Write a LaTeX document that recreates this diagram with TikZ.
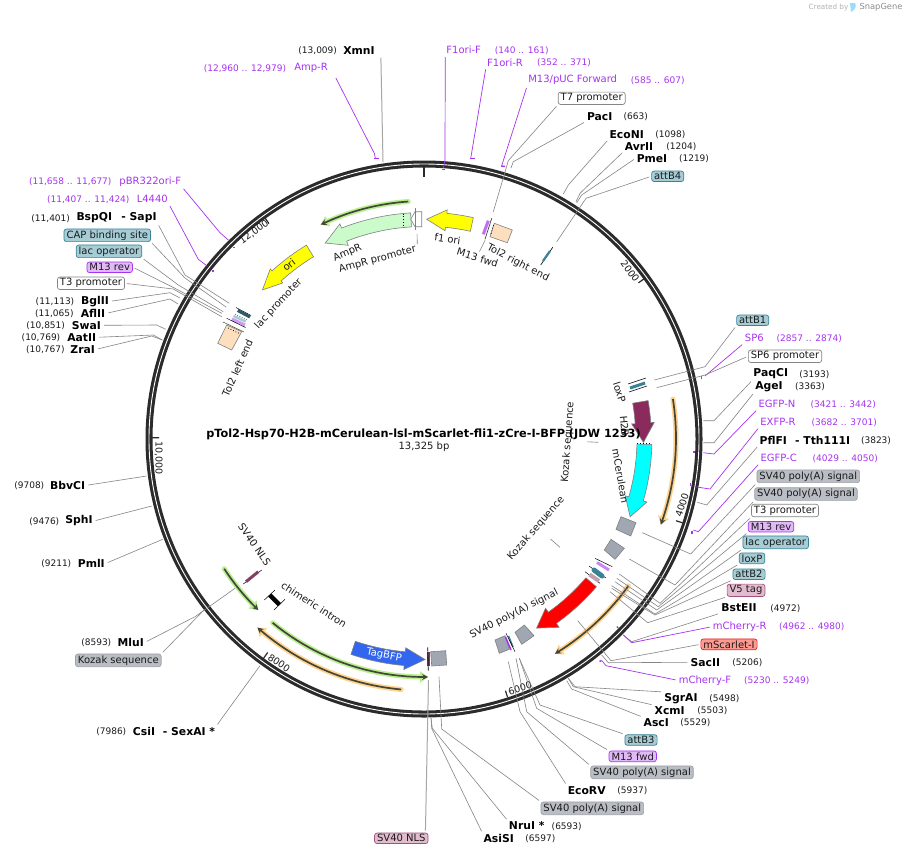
\documentclass[tikz,border=0pt]{standalone}
\usepackage{fontspec}
\usepackage{xcolor}
\usepackage{tikz}
\usetikzlibrary{positioning,arrows.meta,calc}
\setmainfont{DejaVu Sans}
\definecolor{ink}{HTML}{1A1A1A}
\definecolor{ringc}{HTML}{2B2B2B}
\definecolor{linec}{HTML}{858585}
\definecolor{prim}{HTML}{A633F0}
\definecolor{teal}{HTML}{A6CDD6}
\definecolor{tealdk}{HTML}{3A8296}
\definecolor{lilac}{HTML}{E2B9F7}
\definecolor{greybox}{HTML}{B9BDC4}
\definecolor{greyfeat}{HTML}{A0A7B2}
\definecolor{pinkbox}{HTML}{E2BBCE}
\definecolor{pinkdk}{HTML}{A2507F}
\definecolor{peach}{HTML}{FDDFBE}
\definecolor{glowg}{HTML}{B9F08F}
\definecolor{glowo}{HTML}{FFD38C}
\definecolor{linedk}{HTML}{45453A}
\definecolor{ampgreen}{HTML}{CBFBCB}
\definecolor{hyellow}{HTML}{FFFF00}
\definecolor{hcyan}{HTML}{00FFFF}
\definecolor{hred}{HTML}{FF0000}
\definecolor{hplum}{HTML}{8B2A5C}
\definecolor{hblue}{HTML}{3366EE}
\definecolor{scarlet}{HTML}{FF9A90}
\definecolor{scarletdk}{HTML}{E02020}
\tikzset{
  lab/.style={font=\fontsize{10}{12}\selectfont,text=ink,inner sep=1pt},
  ticklab/.style={lab,font=\fontsize{9.5}{11}\selectfont},
  enzyme/.style={lab,font=\fontsize{10.8}{12}\selectfont\bfseries,text=black},
  numb/.style={lab,font=\fontsize{9}{11}\selectfont},
  primer/.style={lab,text=prim},
  primnum/.style={numb,text=prim},
  tag/.style={lab,rounded corners=2.5pt,inner xsep=2.5pt,inner ysep=1.5pt,line width=.7pt},
  tagteal/.style={tag,draw=tealdk,fill=teal},
  taglilac/.style={tag,draw=prim,fill=lilac},
  taggrey/.style={tag,draw=greybox!85!black,fill=greybox},
  tagwhite/.style={tag,draw=linec,fill=white},
  tagpink/.style={tag,draw=pinkdk,fill=pinkbox},
  tagred/.style={tag,draw=scarletdk,fill=scarlet},
  lead/.style={draw=linec,line width=.6pt,shorten <=2pt},
  leadp/.style={draw=prim,line width=.7pt,shorten <=2pt},
  primdot/.style={draw=prim,line width=1.4pt},
  feat/.style={draw=gray,line width=.6pt},
  flab/.style={lab,inner sep=0pt}
}
% arrow shaped feature on the ring: radius, tail, head base, tip, half body, half head
\newcommand{\ringarrow}[7][]{\path[feat,#1] plot[domain=#3:#4,samples=16] ({ringx(#2+#6,\x)},{ringy(#2+#6,\x)}) -- ({ringx(#2+#7,#4)},{ringy(#2+#7,#4)}) -- ({ringx(#2,#5)},{ringy(#2,#5)}) -- ({ringx(#2-#7,#4)},{ringy(#2-#7,#4)}) -- plot[domain=#4:#3,samples=16] ({ringx(#2-#6,\x)},{ringy(#2-#6,\x)}) -- cycle;}
% thin arc with a glow: colour, radius, from, to
\newcommand{\ringline}[4]{\draw[#1,line width=5pt,line cap=round,-{Triangle[length=8pt,width=11pt]}] plot[domain=#3:#4,samples=24] ({ringx(#2,\x)},{ringy(#2,\x)});
  \draw[linedk,line width=1.7pt,-{Stealth[length=6pt,width=6pt]}] plot[domain=#3:#4,samples=24] ({ringx(#2,\x)},{ringy(#2,\x)});}
\begin{document}
\begin{tikzpicture}[x=1pt,y=-1pt,declare function={ringx(\r,\t)=424+\r*sin(\t);ringy(\r,\t)=438.5-\r*cos(\t);}]
  \useasboundingbox (0,0) rectangle (907,855);
  \fill[white] (0,0) rectangle (907,855);
  % credit
  \node[lab,text=black!30,font=\fontsize{7.2}{9}\selectfont] (made) at (828.5,7.5) {Created by};
  \node[lab,text=black!45,font=\fontsize{8.3}{10}\selectfont] (sgene) at (881,7.5) {SnapGene};
  \fill[cyan!40] (850,3) -- (855,3) .. controls (857,6) and (855,10) .. (851,12) -- cycle;
  % backbone
  \draw[ringc,line width=7pt] (424,439) circle (275);
  \draw[white,line width=.9pt] (424,439) circle (275);
  \draw[ringc,line width=2.6pt] (424,166) -- (424,177);
  \foreach \t in {54.03,108.07,162.1,216.14,270.17,324.2}
    \draw[ringc,line width=1.2pt] ({ringx(272,\t)},{ringy(272,\t)}) -- ({ringx(265,\t)},{ringy(265,\t)});
  \node[ticklab,rotate=-54] (t2k) at (630,271) {2000};
  \node[ticklab,rotate=72] (t4k) at (682,505) {4000};
  \node[ticklab,rotate=18] (t6k) at (520,688) {6000};
  \node[ticklab,rotate=-34] (t8k) at (279,663) {8000};
  \node[ticklab,rotate=-90] (t10k) at (158.5,458) {10,000};
  \node[ticklab,rotate=36] (t12k) at (254,232) {12,000};

  % inner features, clockwise from the top
  \ringarrow[fill=hyellow]{219.3}{12.6}{5.8}{0.7}{7}{10.5}
  \node[flab,rotate=-8] (fori) at (447.5,239) {f1 ori};
  \ringarrow[fill=ampgreen]{219}{-3.4}{-21.4}{-26.8}{7}{11.5}
  \draw[black,dotted,line width=.8pt] (403.5,213.5) -- (403.5,225);
  \node[flab,rotate=23] (ampr) at (347.5,253) {AmpR};
  \node[flab,rotate=15] (amprp) at (377.5,259.5) {AmpR promoter};
  \draw[feat,fill=white] (421.7,211.7) -- (421.7,226.7) -- (415,226.7) -- (410.7,219.3) -- (415,211.7) -- cycle;
  \draw[feat] (415.7,208) -- (415.7,230);
  \coordinate (amprpa) at (417,232);
  \coordinate (amprpb) at (417.3,244);
  \draw[lead] (amprpa) -- (amprpb);
  \ringline{glowg}{237.5}{-3.8}{-25.8}
  \ringarrow[fill=hyellow]{219.5}{-31.3}{-42.2}{-47.4}{6.8}{9.4}
  \node[flab,rotate=38] (orilab) at (289,265) {ori};
  \node[flab,rotate=47] (lacp) at (278.5,304) {lac promoter};
  \node[flab,rotate=66] (tolleft) at (237.5,368) {Tol2 left end};
  \draw[feat,fill=peach] (226.7,325) -- (241.7,331.7) -- (231.7,350) -- (217.7,343.3) -- cycle;
  \draw[black,dotted,line width=.8pt] (228,328) -- (239.5,333.5);
  \draw[black,line width=.5pt] (236,307.5) -- (251,315.5);
  \draw[tealdk!70!black,line width=3pt] (237.7,310.5) -- (250,317);
  \draw[black,line width=.4pt,dash pattern=on 1pt off 1.5pt] (235,314) -- (248,320.5);
  \draw[teal,line width=2.5pt] (233.5,316) -- (245.7,321.5);
  \draw[prim!50,line width=3pt] (232,319) -- (245,325);
  \draw[black,line width=.5pt] (226.7,318.3) -- (245.5,327.5);
  \draw[linedk,line width=.5pt] (223,322) -- (244,332);

  \draw[feat,fill=peach] (494.3,223.3) -- (512.3,230) -- (507.3,242.7) -- (490,236.7) -- cycle;
  \draw[black,dotted,line width=.8pt] (493.5,225) -- (490.7,235);
  \draw[prim!70,line width=3pt] (488.3,220.7) -- (483.3,234.3);
  \draw[linedk,line width=.7pt] (491.7,218.3) -- (485,239.3);
  \node[flab,rotate=-17] (mfwd) at (477.5,257.5) {M13 fwd};
  \coordinate (mfwda) at (486,238.5);
  \coordinate (mfwdb) at (479.5,251.5);
  \draw[lead] (mfwda) -- (mfwdb);
  \node[flab,rotate=-27] (tolright) at (518,263) {Tol2 right end};
  \draw[black,line width=.6pt] (540.7,265) -- (552.7,247.3);
  \draw[tealdk,line width=2.2pt] (543,261) -- (550,251);

  % loxP and the H2B run
  \draw[black,line width=.5pt] (628,384) -- (646,378);
  \draw[black,line width=.5pt] (629,392) -- (647,386);
  \draw[tealdk,line width=3pt] (630,388) -- (645,383);
  \node[flab,rotate=-72] (loxpl) at (619.5,392) {loxP};
  \ringline{glowo}{252}{81}{110}
  \ringarrow[fill=hplum]{219.5}{80.4}{86}{91}{7.8}{11.3}
  \ringarrow[fill=hcyan]{220.5}{91.5}{105.9}{110.8}{7.5}{11.3}
  \draw[black,dotted,line width=1pt] (637,443.5) -- (651,443.5);
  \node[flab,rotate=-80] (mcer) at (620.5,476) {mCerulean};
  \node[flab,rotate=86] (kozaka) at (568,442) {Kozak sequence};
  \coordinate (kozakaa) at (585,441.7);
  \coordinate (kozakab) at (598.3,442.3);
  \draw[lead] (kozakaa) -- (kozakab);
  \node[flab,rotate=49] (kozakb) at (536,528.5) {Kozak sequence};
  \coordinate (kozakba) at (549,537.7);
  \coordinate (kozakbb) at (560,547.3);
  \draw[lead] (kozakba) -- (kozakbb);
  \draw[feat,fill=greyfeat] (621,516.7) -- (636,522.7) -- (630.7,536) -- (616,529.3) -- cycle;
  \draw[feat,fill=greyfeat] (611,539.3) -- (624.3,548.3) -- (615,559.3) -- (604.3,550) -- cycle;

  % red arrow and its small neighbours
  \draw[black,line width=.5pt] (595,558.3) -- (612.3,566.7);
  \draw[prim!60,line width=3pt] (597,562.5) -- (609,570);
  \draw[black,line width=.5pt] (589,566) -- (606,578);
  \draw[black,line width=.5pt] (585,571.7) -- (600,583.3);
  \draw[tealdk,line width=5pt,line cap=round] (594,570) -- (602,576);
  \draw[pinkbox!85!black,line width=4pt] (589.5,574.5) -- (599,581);
  \ringarrow[fill=hred]{220.5}{130.7}{144.4}{149.3}{6.9}{11.7}
  \ringline{glowo}{252}{125.8}{148.7}
  \draw[feat,fill=greyfeat] (524.3,625) -- (534,635.7) -- (521.7,644.3) -- (515,632.3) -- cycle;
  \draw[feat,fill=greyfeat] (495,640) -- (505,635.7) -- (509.3,649.3) -- (499.3,653.3) -- cycle;
  \draw[prim,line width=1.5pt] (505.5,637) -- (511,650);
  \draw[tealdk,line width=1.6pt] (508.5,636) -- (513,647);
  \draw[black,line width=.5pt] (506,633.3) -- (515,651.7);
  \node[flab,rotate=27] (svlab) at (514,614) {SV40 poly(A) signal};

  % bottom and left
  \draw[feat,fill=greyfeat] (430.7,651.7) -- (445.7,650.7) -- (446.7,665) -- (431.7,666) -- cycle;
  \draw[pinkdk!70!black,line width=2.6pt] (428.3,651.7) -- (428.3,666);
  \draw[black,line width=.6pt] (427.7,647.3) -- (428.3,670.7);
  \ringarrow[fill=hblue]{221}{198.7}{185}{179.7}{6.9}{10.9}
  \node[flab,text=white,rotate=-11] (tagbfp) at (384,655.5) {TagBFP};
  \ringline{glowg}{238.5}{219.4}{179}
  \ringline{glowo}{252}{185.2}{221.4}
  \ringline{glowg}{238.5}{236.9}{224}
  \draw[black,line width=4.5pt] (269.7,595) -- (279.5,604.7);
  \draw[black,line width=.5pt] (264.3,600) -- (275,590);
  \draw[black,line width=.5pt] (274,610) -- (285,599.3);
  \node[flab,rotate=-33] (chim) at (314,604.5) {chimeric intron};
  \draw[black,line width=.5pt] (243.3,584) -- (261.7,570);
  \draw[pinkdk!80!black,line width=3pt] (246,581.7) -- (258.3,571.7);
  \node[flab,rotate=-55] (svnlsl) at (254.5,544.5) {SV40 NLS};

  % top labels
  \node[numb] (xmnin) at (317.7,50.7) {(13,009)};
  \node[enzyme] (xmni) at (359,50.5) {XmnI};
  \coordinate (xmnia) at (383,162);
  \draw[lead,black!35,line width=1pt] ([xshift=5pt]xmni.south east) -- (xmnia);
  \node[primnum] (amprn) at (245,69) {(12,960 .. 12,979)};
  \node[primer] (ampro) at (311,68.3) {Amp-R};
  \coordinate (amproa) at (374.3,153.3);
  \coordinate (amprob) at (375.5,158.7);
  \draw[leadp] ([xshift=6pt,yshift=-2pt]ampro.south east) -- (amproa) -- (amprob);
  \draw[primdot] (374,158.7) -- (378.7,158.7);
  \node[primer] (fone) at (463.7,50) {F1ori-F};
  \node[primnum] (fonen) at (521.7,51) {(140 .. 161)};
  \coordinate (fonea) at (445,160);
  \coordinate (foneb) at (443.5,168);
  \draw[leadp] (fone.south west) -- (fonea) -- (foneb);
  \draw[primdot] (442,169.3) -- (444.8,169.3);
  \node[primer] (ftwo) at (505,62.3) {F1ori-R};
  \node[primnum] (ftwon) at (564,62.7) {(352 .. 371)};
  \coordinate (ftwoa) at (470.7,158.5);
  \draw[leadp] (ftwo.south west) -- (ftwoa);
  \draw[primdot] (470.2,158.7) -- (475,158.7);
  \node[primer] (mpuc) at (572.7,80) {M13/pUC Forward};
  \node[primnum] (mpucn) at (657.7,80.7) {(585 .. 607)};
  \coordinate (mpuca) at (501.7,165.7);
  \draw[leadp] (mpuc.south west) -- (mpuca);
  \draw[primdot] (501.2,166) -- (505,166.5);
  \node[tagwhite] (tseven) at (591.7,98.3) {T7 promoter};
  \coordinate (tsevena) at (508.3,160.7);
  \coordinate (tsevenb) at (493.3,211.7);
  \draw[lead] (tseven.south west) -- (tsevena) -- (tsevenb);
  \node[enzyme] (paci) at (599.7,116.3) {PacI};
  \node[numb] (pacin) at (635.7,117) {(663)};
  \coordinate (pacia) at (513.3,161.7);
  \coordinate (pacib) at (511,168);
  \draw[lead] (paci.south west) -- (pacia) -- (pacib);
  \node[enzyme] (econi) at (626.7,134.3) {EcoNI};
  \node[numb] (econin) at (670.3,135) {(1098)};
  \coordinate (econia) at (568.3,185);
  \coordinate (econib) at (563.3,194);
  \draw[lead] (econi.south west) -- (econia) -- (econib);
  \node[enzyme] (avrii) at (639,146.3) {AvrII};
  \node[numb] (avriin) at (681.3,147) {(1204)};
  \coordinate (avriia) at (580,193.3);
  \coordinate (avriib) at (576,201.7);
  \draw[lead] (avrii.south west) -- (avriia) -- (avriib);
  \node[enzyme] (pmei) at (652,158.3) {PmeI};
  \node[numb] (pmein) at (694,159) {(1219)};
  \coordinate (pmeia) at (581.7,195);
  \coordinate (pmeib) at (576.7,202.7);
  \draw[lead] (pmei.west) -- (pmeia) -- (pmeib);
  \node[tagteal] (attbfour) at (667.7,176.3) {attB4};
  \coordinate (attbfoura) at (586,198.3);
  \coordinate (attbfourb) at (556.7,241.7);
  \draw[lead] (attbfour.west) -- (attbfoura) -- (attbfourb);

  % left labels
  \node[primnum] (pbrn) at (70.3,182) {(11,658 .. 11,677)};
  \node[primer] (pbr) at (150.3,181.3) {pBR322ori-F};
  \coordinate (pbra) at (220,232.7);
  \coordinate (pbrb) at (228.3,240);
  \draw[leadp] (pbr.south east) -- (pbra) -- (pbrb);
  \draw[primdot] (233.3,247.3) -- (235,247.3);
  \node[primnum] (lfourn) at (88.3,200) {(11,407 .. 11,424)};
  \node[primer] (lfour) at (152.3,199.3) {L4440};
  \coordinate (lfoura) at (198.3,259.3);
  \coordinate (lfourb) at (206.7,265.7);
  \draw[leadp] (lfour.south east) -- (lfoura) -- (lfourb);
  \draw[primdot] (212,271) -- (213.7,271);
  \node[numb] (sapin) at (50.7,218.3) {(11,401)};
  \node[enzyme] (bspqi) at (94.3,217.3) {BspQI};
  \node[enzyme] (sapi) at (139,217.3) {- SapI};
  \coordinate (sapia) at (185,275);
  \coordinate (sapib) at (229.3,303.3);
  \draw[lead] (sapi.south east) -- (sapia) -- (sapib);
  \node[tagteal] (capbs) at (107.3,235.3) {CAP binding site};
  \coordinate (capbsa) at (185,278);
  \coordinate (capbsb) at (226,307);
  \draw[lead] (capbs.south east) -- (capbsa) -- (capbsb);
  \node[tagteal] (lacopl) at (109,251.3) {lac operator};
  \coordinate (lacopla) at (178.3,285);
  \coordinate (lacoplb) at (223.3,311.7);
  \draw[lead] (lacopl.south east) -- (lacopla) -- (lacoplb);
  \node[taglilac] (mrevl) at (109.7,267.3) {M13 rev};
  \coordinate (mrevla) at (175,288.3);
  \coordinate (mrevlb) at (221.7,313.3);
  \draw[lead] (mrevl.east) -- (mrevla) -- (mrevlb);
  \node[tagwhite] (tthreel) at (91,283.3) {T3 promoter};
  \coordinate (tthreela) at (173.3,289);
  \coordinate (tthreelb) at (221.7,316.7);
  \draw[lead] (tthreel.east) -- (tthreela) -- (tthreelb);
  \node[numb] (bgliin) at (55,302) {(11,113)};
  \node[enzyme] (bglii) at (95,301.3) {BglII};
  \coordinate (bgliia) at (170,292.7);
  \coordinate (bgliib) at (180,298);
  \draw[lead] (bglii.east) -- (bgliia) -- (bgliib);
  \node[numb] (afliin) at (54.3,314) {(11,065)};
  \node[enzyme] (aflii) at (93,313.3) {AflII};
  \coordinate (afliia) at (170,299);
  \coordinate (afliib) at (178,304);
  \draw[lead] (aflii.east) -- (afliia) -- (afliib);
  \node[numb] (swain) at (45.7,326) {(10,851)};
  \node[enzyme] (swai) at (86.3,325.3) {SwaI};
  \coordinate (swaia) at (156.7,325);
  \coordinate (swaib) at (165.7,329.3);
  \draw[lead] (swai.east) -- (swaia) -- (swaib);
  \node[numb] (aatiin) at (41,338) {(10,769)};
  \node[enzyme] (aatii) at (81.7,337.3) {AatII};
  \coordinate (aatiia) at (153.3,335);
  \coordinate (aatiib) at (162.3,340);
  \draw[lead] (aatii.east) -- (aatiia) -- (aatiib);
  \node[numb] (zrain) at (45.3,350) {(10,767)};
  \node[enzyme] (zrai) at (82.7,349.3) {ZraI};
  \coordinate (zraia) at (151.7,336);
  \draw[lead] (zrai.east) -- (zraia) -- (aatiib);
  \node[numb] (bbvn) at (29.3,486) {(9708)};
  \node[enzyme] (bbv) at (67.7,485.3) {BbvCI};
  \coordinate (bbva) at (146.7,476);
  \draw[lead] (bbv.east) -- (bbva);
  \node[numb] (sphn) at (44.3,521.7) {(9476)};
  \node[enzyme] (sph) at (79,521) {SphI};
  \coordinate (spha) at (151.7,506);
  \draw[lead] (sph.east) -- (spha);
  \node[numb] (pmln) at (56.3,564) {(9211)};
  \node[enzyme] (pml) at (91.3,563.3) {PmlI};
  \coordinate (pmla) at (162.7,539.3);
  \draw[lead] (pml.east) -- (pmla);
  \node[numb] (mlun) at (96.3,643) {(8593)};
  \node[enzyme] (mlu) at (130.7,642.3) {MluI};
  \coordinate (mlua) at (195,616.7);
  \coordinate (mlub) at (235,588.3);
  \draw[lead] (mlu.east) -- (mlua) -- (mlub);
  \node[taggrey] (kozakc) at (118.3,660.3) {Kozak sequence};
  \coordinate (kozakca) at (204,610);
  \draw[lead] (kozakc.north east) -- (kozakca);
  \node[numb] (csin) at (111.3,732) {(7986)};
  \node[enzyme] (csi) at (144,731.3) {CsiI};
  \node[enzyme] (sexai) at (189,731.3) {- SexAI *};
  \coordinate (sexaia) at (260,665.7);
  \draw[lead] (sexai.north east) -- (sexaia);

  % right labels
  \node[tagteal] (attbone) at (752.7,320.3) {attB1};
  \coordinate (attbonea) at (705,366.7);
  \coordinate (attboneb) at (654.3,380);
  \draw[lead] (attbone.south west) -- (attbonea) -- (attboneb);
  \node[primer] (spsix) at (754.3,338.3) {SP6};
  \node[primnum] (spsixn) at (809.3,339) {(2857 .. 2874)};
  \coordinate (spsixa) at (705,376);
  \draw[leadp] (spsix.south west) -- (spsixa);
  \draw[primdot] (701.3,376) -- (701.3,379);
  \node[tagwhite] (spsixp) at (785,356.3) {SP6 promoter};
  \coordinate (spsixpa) at (705,375);
  \coordinate (spsixpb) at (656.7,387.7);
  \draw[lead] (spsixp.west) -- (spsixpa) -- (spsixpb);
  \node[enzyme] (paq) at (770.7,374) {PaqCI};
  \node[numb] (paqn) at (814.3,375) {(3193)};
  \coordinate (paqa) at (714,420.7);
  \coordinate (paqb) at (703.3,420.7);
  \draw[lead] (paq.south west) -- (paqa) -- (paqb);
  \node[enzyme] (age) at (769,386.3) {AgeI};
  \node[numb] (agen) at (810,387) {(3363)};
  \coordinate (agea) at (714,442.7);
  \coordinate (ageb) at (703.3,442.7);
  \draw[lead] (age.south west) -- (agea) -- (ageb);
  \node[primer] (egfpn) at (777,404.3) {EGFP-N};
  \node[primnum] (egfpnn) at (843.3,405) {(3421 .. 3442)};
  \coordinate (egfpna) at (714,454);
  \coordinate (egfpnb) at (703.3,452.7);
  \draw[leadp] (egfpn.south west) -- (egfpna) -- (egfpnb);
  \draw[primdot] (694,450.5) -- (694,453);
  \node[primer] (exfp) at (778,422.3) {EXFP-R};
  \node[primnum] (exfpn) at (844.3,423) {(3682 .. 3701)};
  \coordinate (exfpa) at (710,489);
  \coordinate (exfpb) at (695,486.7);
  \draw[leadp] (exfp.south west) -- (exfpa) -- (exfpb);
  \draw[primdot] (690.7,483) -- (690.7,485.7);
  \node[enzyme] (pfl) at (773.3,440.3) {PflFI};
  \node[enzyme] (tth) at (822.7,440.3) {- Tth111I};
  \node[numb] (tthn) at (876,441) {(3823)};
  \coordinate (ttha) at (706.7,505);
  \coordinate (tthb) at (697.3,502.3);
  \draw[lead] (pfl.south west) -- (ttha) -- (tthb);
  \node[primer] (egfpc) at (778.7,458.3) {EGFP-C};
  \node[primnum] (egfpcn) at (845.3,459) {(4029 .. 4050)};
  \coordinate (egfpca) at (698.3,531.7);
  \coordinate (egfpcb) at (693.3,530);
  \draw[leadp] (egfpc.south west) -- (egfpca) -- (egfpcb);
  \draw[primdot] (692,531) -- (692,533.5);
  \node[taggrey] (svone) at (808.3,476.3) {SV40 poly(A) signal};
  \coordinate (svonea) at (690.7,554);
  \coordinate (svoneb) at (642.3,532.7);
  \draw[lead] (svone.south west) -- (svonea) -- (svoneb);
  \node[taggrey] (svtwo) at (806,494) {SV40 poly(A) signal};
  \coordinate (svtwoa) at (675,585);
  \coordinate (svtwob) at (629.3,559);
  \draw[lead] (svtwo.south west) -- (svtwoa) -- (svtwob);
  \node[tagwhite] (tthreer) at (785,510.5) {T3 promoter};
  \coordinate (tthreera) at (660,603.3);
  \coordinate (tthreerb) at (619.3,574);
  \draw[lead] (tthreer.south west) -- (tthreera) -- (tthreerb);
  \node[taglilac] (mrevr) at (771,526.7) {M13 rev};
  \coordinate (mrevra) at (658.3,606.7);
  \coordinate (mrevrb) at (616.7,578.3);
  \draw[lead] (mrevr.south west) -- (mrevra) -- (mrevrb);
  \node[tagteal] (lacopr) at (775.7,542.3) {lac operator};
  \coordinate (lacopra) at (656.7,610);
  \coordinate (lacoprb) at (615,581.7);
  \draw[lead] (lacopr.south west) -- (lacopra) -- (lacoprb);
  \node[tagteal] (loxpr) at (752,558.3) {loxP};
  \coordinate (loxpra) at (655,614);
  \coordinate (loxprb) at (611.7,585.7);
  \draw[lead] (loxpr.south west) -- (loxpra) -- (loxprb);
  \node[tagteal] (attbtwo) at (749,574.3) {attB2};
  \coordinate (attbtwoa) at (655,615);
  \coordinate (attbtwob) at (611.7,588.3);
  \draw[lead] (attbtwo.south west) -- (attbtwoa) -- (attbtwob);
  \node[tagpink] (vfive) at (746,590.3) {V5 tag};
  \coordinate (vfivea) at (647.7,622.7);
  \coordinate (vfiveb) at (610,591.7);
  \draw[lead] (vfive.south west) -- (vfivea) -- (vfiveb);
  \node[enzyme] (bst) at (739,608) {BstEII};
  \node[numb] (bstn) at (785.3,609) {(4972)};
  \coordinate (bsta) at (631.7,641.7);
  \coordinate (bstb) at (623.3,635);
  \draw[lead] (bst.south west) -- (bsta) -- (bstb);
  \node[primer] (mchr) at (739.7,626.7) {mCherry-R};
  \node[primnum] (mchrn) at (811.7,627) {(4962 .. 4980)};
  \coordinate (mchra) at (631.7,642.7);
  \coordinate (mchrb) at (623.3,635);
  \draw[leadp] (mchr.west) -- (mchra) -- (mchrb);
  \draw[primdot] (617,626.5) -- (618,628);
  \node[tagred] (mscar) at (729,644.3) {mScarlet-I};
  \coordinate (mscara) at (611,660.7);
  \coordinate (mscarb) at (577.7,620.7);
  \draw[lead] (mscar.west) -- (mscara) -- (mscarb);
  \node[enzyme] (sac) at (705.3,662.3) {SacII};
  \node[numb] (sacn) at (747.3,663) {(5206)};
  \coordinate (saca) at (608.3,662.7);
  \coordinate (sacb) at (601.7,655);
  \draw[lead] (sac.west) -- (saca) -- (sacb);
  \node[primer] (mchf) at (705,680.3) {mCherry-F};
  \node[primnum] (mchfn) at (776.7,681) {(5230 .. 5249)};
  \coordinate (mchfa) at (606,665.7);
  \coordinate (mchfb) at (602,660.7);
  \draw[leadp] (mchf.west) -- (mchfa) -- (mchfb);
  \draw[primdot] (599.5,661.5) -- (601.5,660.5);
  \node[enzyme] (sgr) at (681,698.3) {SgrAI};
  \node[numb] (sgrn) at (724.3,699) {(5498)};
  \coordinate (sgra) at (575,686.7);
  \coordinate (sgrb) at (568.3,678.3);
  \draw[lead] (sgr.north west) -- (sgra) -- (sgrb);
  \node[enzyme] (xcm) at (669.7,710.3) {XcmI};
  \node[numb] (xcmn) at (712.3,711) {(5503)};
  \coordinate (xcma) at (573.3,686.7);
  \draw[lead] (xcm.north west) -- (xcma) -- (sgrb);
  \node[enzyme] (asc) at (656.3,722.3) {AscI};
  \node[numb] (ascn) at (695.3,723) {(5529)};
  \coordinate (asca) at (571.7,689);
  \coordinate (ascb) at (566.7,680.7);
  \draw[lead] (asc.north west) -- (asca) -- (ascb);

  % bottom labels
  \node[tagteal] (attbthree) at (641,740) {attB3};
  \coordinate (attbthreea) at (540,705);
  \coordinate (attbthreeb) at (519.3,658.3);
  \draw[lead] (attbthree.north west) -- (attbthreea) -- (attbthreeb);
  \node[taglilac] (mfwdb) at (632.7,756.3) {M13 fwd};
  \coordinate (mfwdba) at (536.7,708.3);
  \draw[lead] (mfwdb.north west) -- (mfwdba) -- (attbthreeb);
  \node[taggrey] (svthree) at (642,772.3) {SV40 poly(A) signal};
  \coordinate (svthreea) at (526.7,711.7);
  \coordinate (svthreeb) at (516,658.3);
  \draw[lead] (svthree.north west) -- (svthreea) -- (svthreeb);
  \node[enzyme] (ecorv) at (586.7,790.3) {EcoRV};
  \node[numb] (ecorvn) at (632.3,791) {(5937)};
  \coordinate (ecorva) at (520,711.7);
  \coordinate (ecorvb) at (508.3,661.7);
  \draw[lead] (ecorv.north west) -- (ecorva) -- (ecorvb);
  \node[taggrey] (svfour) at (592.3,808.3) {SV40 poly(A) signal};
  \coordinate (svfoura) at (441.7,729);
  \coordinate (svfourb) at (439,676.7);
  \draw[lead] (svfour.north west) -- (svfoura) -- (svfourb);
  \node[enzyme] (nru) at (526.7,826) {NruI *};
  \node[numb] (nrun) at (566.7,827) {(6593)};
  \coordinate (nrua) at (432.3,728.3);
  \coordinate (nrub) at (431,718);
  \draw[lead] (nru.north west) -- (nrua) -- (nrub);
  \node[enzyme] (asi) at (498.7,838.3) {AsiSI};
  \node[numb] (asin) at (540.3,839) {(6597)};
  \coordinate (asia) at (431.7,728.3);
  \draw[lead] (asi.north west) -- (asia) -- (nrub);
  \node[tagpink] (svnlsr) at (401.3,838.3) {SV40 NLS};
  \coordinate (svnlsra) at (428.5,680);
  \draw[lead,black!35,line width=1pt] ([xshift=-3pt]svnlsr.north east) -- (svnlsra);

  % centre
  \node[enzyme,font=\fontsize{11.3}{13}\selectfont\bfseries] (title) at (423.5,434) {pTol2-Hsp70-H2B-mCerulean-lsl-mScarlet-fli1-zCre-I-BFP (JDW 1233)};
  \node[lab] (bp) at (424,446.5) {13,325 bp};
  \node[flab,rotate=-85] (htwob) at (624.5,426) {H2B};
\end{tikzpicture}
\end{document}
